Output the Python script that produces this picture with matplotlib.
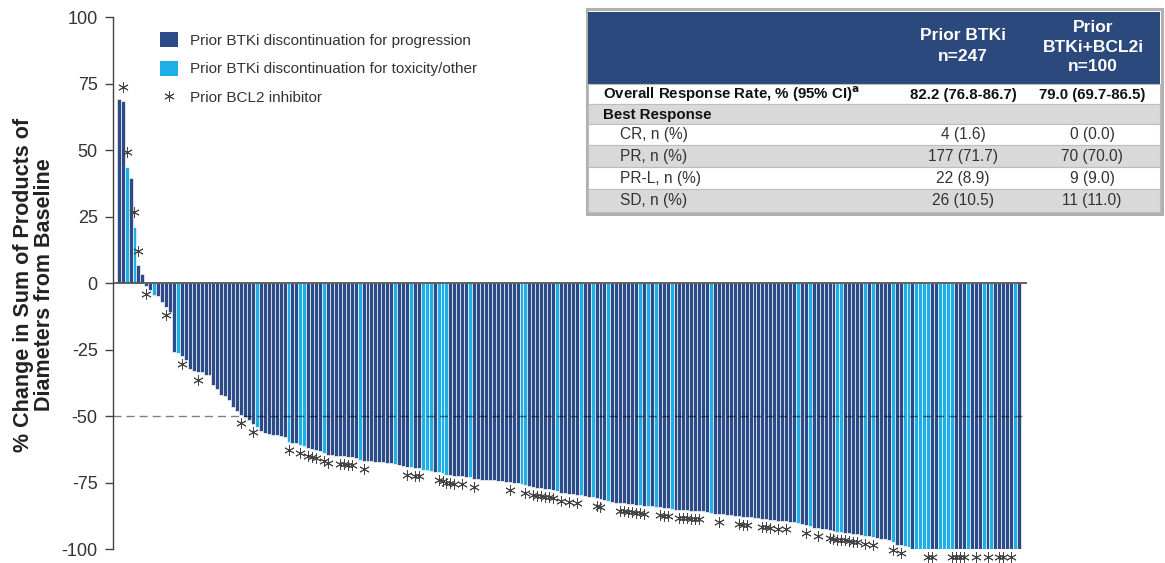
import matplotlib
matplotlib.use("Agg")
import matplotlib.pyplot as plt
from matplotlib.patches import Rectangle, Patch
from matplotlib.lines import Line2D

plt.rcParams['font.family'] = ['Liberation Sans', 'DejaVu Sans']
plt.rcParams['axes.unicode_minus'] = False

# ---------------- data ----------------
values = [
    69.3, 68.3, 43.7, 39.6, 21.2, 6.6, 3.4,
    -1.0, -2.5, -4.5, -5.0, -7.0, -9.0, -11.0,
    -25.8, -26.4, -27.5, -29.0, -32.5, -33.0,
    -33.5, -33.5, -34.5, -34.6,
    -38.5, -40.0, -42.0, -42.5, -44.0, -46.5, -48.0,
    -49.5, -50.5, -51.5, -53.0, -54.0, -55.5,
    -56.5, -56.8, -57.0, -57.3, -57.5, -57.8,
    -59.7, -60.0, -60.3, -61.0, -61.3,
    -62.0, -62.3, -62.8, -63.2, -64.0, -64.5,
    -64.7, -64.9, -65.0, -65.2, -65.3, -65.5, -65.8,
    -66.4, -66.8,
    -67.0, -67.0, -67.2, -67.2, -67.3, -67.5,
    -67.6, -68.0,
    -68.4, -68.7, -69.0, -69.2, -69.5, -69.7,
    -70.2, -70.3, -70.5, -70.9,
    -71.2, -71.5, -72.0,
    -72.2, -72.4, -72.5, -72.7, -72.8, -73.0,
    -73.6, -73.8, -74.0, -74.0, -74.1, -74.2, -74.3, -74.4,
    -74.7, -74.8, -75.0, -75.2, -75.6, -75.9,
    -76.4, -76.8, -77.0, -77.2, -77.4, -77.6, -77.8,
    -78.2, -78.8, -79.0, -79.2, -79.4, -79.6,
    -79.8, -80.2, -80.4, -80.6,
    -80.9, -81.2, -81.5, -82.0,
    -82.5, -82.6, -82.8, -82.8, -83.0, -83.2, -83.3,
    -83.5, -83.7, -83.8, -84.0, -84.1,
    -84.3, -84.5, -84.7, -85.0,
    -85.2, -85.3, -85.4, -85.5, -85.6, -85.7, -85.8, -85.9, -86.0,
    -86.6,
    -86.8, -86.9, -87.0, -87.2, -87.3, -87.5, -87.6, -87.8, -88.0, -88.1,
    -88.3, -88.5, -88.6, -88.8, -89.0, -89.1, -89.3, -89.5, -89.6, -89.8, -90.0,
    -90.3,
    -90.7, -91.0,
    -91.5,
    -92.0, -92.2, -92.4, -92.6, -92.9,
    -93.2,
    -93.5, -93.6,
    -93.8, -94.0, -94.2, -94.5, -94.8,
    -95.0, -95.3, -95.6,
    -96.0, -96.2, -96.4, -96.6,
    -97.5, -98.5, -98.5, -99.0, -99.2,
    -100, -100, -100, -100, -100, -100, -100, -100, -100, -100,
    -100, -100, -100, -100, -100, -100, -100, -100, -100, -100,
    -100, -100, -100, -100, -100, -100, -100, -100,
]

# bars of patients who discontinued prior BTKi for toxicity/other
tox_idx = [2, 4, 9, 15, 35, 43, 46, 47, 52, 61, 70, 74, 77, 78, 79, 81, 82, 83,
           89, 102, 103, 111, 117, 120, 124, 132, 134, 136, 140, 150, 172, 175,
           182, 183, 189, 191, 196, 199, 200, 202, 203, 204, 205, 208, 209, 210,
           211, 215, 219, 221, 227]

# bars of patients with a prior BCL2 inhibitor
bcl2_idx = [1, 2, 4, 5, 7, 12, 16, 20, 31, 34, 43, 46, 48, 49, 50, 52, 53, 56, 57,
            58, 59, 62, 73, 75, 76, 81, 82, 83, 84, 85, 87, 90, 99, 103, 105, 106,
            107, 108, 109, 110, 112, 114, 116, 121, 122, 127, 128, 129, 130, 131,
            132, 133, 137, 138, 139, 142, 143, 144, 145, 146, 147, 152, 157, 158,
            159, 163, 164, 165, 167, 169, 174, 177, 180, 181, 182, 183, 184, 185,
            186, 187, 189, 191, 196, 198, 205, 206, 211, 212, 213, 214, 217, 220,
            223, 224, 226]

yticks = [100, 75, 50, 25, 0, -25, -50, -75, -100]
ylabel = "% Change in Sum of Products of\nDiameters from Baseline"
legend_labels = ["Prior BTKi discontinuation for progression",
                 "Prior BTKi discontinuation for toxicity/other",
                 "Prior BCL2 inhibitor"]

table_cols = ["Prior BTKi\nn=247", "Prior\nBTKi+BCL2i\nn=100"]
table_rows = ["Overall Response Rate, % (95% CI)$^\\mathbf{a}$", "Best Response",
              "CR, n (%)", "PR, n (%)", "PR-L, n (%)", "SD, n (%)"]
table_btki = ["82.2 (76.8-86.7)", "", "4 (1.6)", "177 (71.7)", "22 (8.9)", "26 (10.5)"]
table_bcl2 = ["79.0 (69.7-86.5)", "", "0 (0.0)", "70 (70.0)", "9 (9.0)", "11 (11.0)"]

# ---------------- style ----------------
DARK = '#2D4B87'
LIGHT = '#1FAEE5'
HEAD = '#2C497D'
GRAYROW = '#D9D9D9'
TXT = '#333333'
STAR = '#444444'

W, H = 1165, 563
fig = plt.figure(figsize=(W / 100, H / 100), dpi=100)
ax = fig.add_axes([113 / W, 1 - 549 / H, (1027 - 113) / W, (549 - 17) / H])

xs = list(range(len(values)))
colors = [LIGHT if i in tox_idx else DARK for i in xs]
ax.bar(xs, values, width=1.0, color=colors, edgecolor='white', linewidth=0.45, zorder=2)

bx = [i for i in bcl2_idx]
by = [values[i] + 5.5 if values[i] > 0 else values[i] - 3.0 for i in bcl2_idx]
ax.plot(bx, by, linestyle='none', marker=(6, 2, 0), markersize=7.5,
        markeredgecolor=STAR, markerfacecolor=STAR, markeredgewidth=0.65,
        clip_on=False, zorder=5)

ax.axhline(0, color='#555555', lw=1.3, zorder=3)
ax.axhline(-50, color='black', alpha=0.5, lw=1.0, ls=(0, (5.8, 3.6)), zorder=4)

ax.set_xlim(-1.44, 230.0)
ax.set_ylim(-100, 100)
ax.set_xticks([])
ax.set_yticks(yticks)
ax.set_yticklabels([str(t) for t in yticks])
ax.tick_params(axis='y', length=6, width=1, color='#444444', labelsize=13,
               labelcolor=TXT, pad=5)
for s in ['top', 'right', 'bottom']:
    ax.spines[s].set_visible(False)
ax.spines['left'].set_color('#444444')
ax.spines['left'].set_linewidth(1.0)

fig.text(34 / W, 1 - 285 / H, ylabel, rotation=90, ha='center', va='center',
         multialignment='center', fontsize=15.5, fontweight='bold', color='#222222',
         linespacing=1.05)

handles = [Patch(facecolor=DARK, edgecolor='none'),
           Patch(facecolor=LIGHT, edgecolor='none'),
           Line2D([], [], ls='none', marker=(6, 2, 0), markersize=7.5,
                  markeredgecolor=STAR, markeredgewidth=0.65)]
leg = ax.legend(handles, legend_labels, loc='upper left',
                bbox_to_anchor=(160 / W, 1 - 32 / H), bbox_transform=fig.transFigure,
                frameon=False, fontsize=11, handlelength=1.15, handleheight=1.15,
                labelspacing=0.85, handletextpad=0.8, borderpad=0, borderaxespad=0)
for t in leg.get_texts():
    t.set_color(TXT)

# ---------------- table ----------------
tx = fig.add_axes([585 / W, 1 - 216 / H, 580 / W, 209 / H])
tx.set_xlim(585, 1165)
tx.set_ylim(216, 7)
tx.axis('off')

tx.add_patch(Rectangle((586.5, 9), 575, 205, facecolor='white', edgecolor='#B0B0B0', lw=2.2))
tx.add_patch(Rectangle((588, 11.5), 572, 72, facecolor=HEAD, edgecolor='none'))
row_edges = [84, 104, 124, 145, 167, 189, 211.5]
row_fc = ['white', GRAYROW, 'white', GRAYROW, 'white', GRAYROW]
for k in range(len(table_rows)):
    y0, y1 = row_edges[k], row_edges[k + 1]
    tx.add_patch(Rectangle((588, y0), 572, y1 - y0, facecolor=row_fc[k],
                           edgecolor='#BDBDBD', lw=0.8))
    yc = (y0 + y1) / 2 + 0.5
    bold = k < 2
    xl = 603 if k < 2 else 620
    fs = 10.8 if bold else 11.2
    tx.text(xl, yc, table_rows[k], ha='left', va='center', fontsize=fs,
            fontweight='bold' if bold else 'normal', color='#111111' if bold else TXT)
    tx.text(963, yc, table_btki[k], ha='center', va='center', fontsize=fs,
            fontweight='bold' if bold else 'normal', color='#111111' if bold else TXT)
    tx.text(1092, yc, table_bcl2[k], ha='center', va='center', fontsize=fs,
            fontweight='bold' if bold else 'normal', color='#111111' if bold else TXT)

tx.text(963, 46, table_cols[0], ha='center', va='center', fontsize=12.5,
        fontweight='bold', color='white', linespacing=1.55, multialignment='center')
tx.text(1093, 47, table_cols[1], ha='center', va='center', fontsize=12.5,
        fontweight='bold', color='white', linespacing=1.4, multialignment='center')

fig.savefig('out.png', dpi=100)
